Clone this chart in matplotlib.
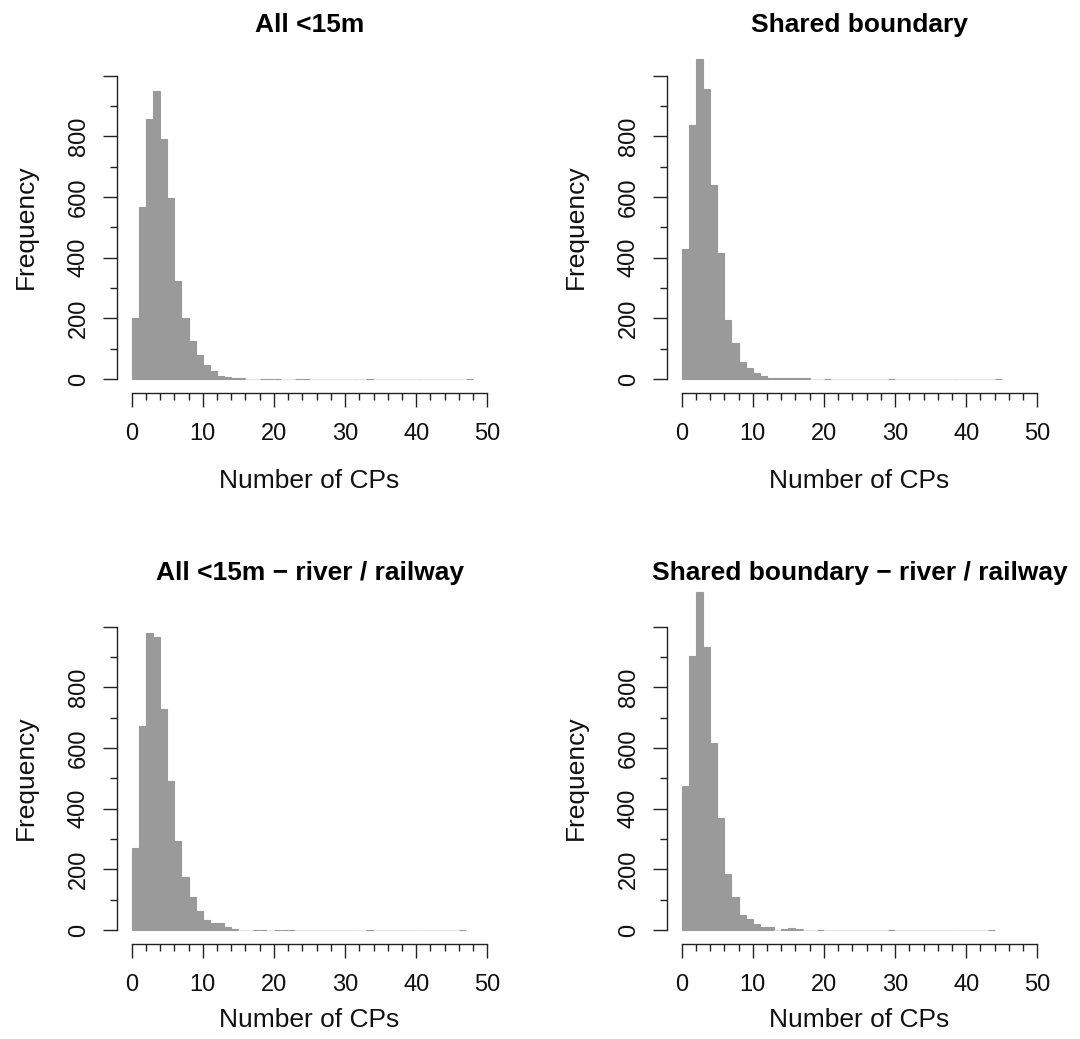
import matplotlib.pyplot as plt
import numpy as np

plt.rcParams['font.family'] = ['Liberation Sans', 'DejaVu Sans']

# counts per unit-width bin, starting at 0
all_15m = [200, 567, 856, 949, 792, 596, 323, 200, 125, 79, 45, 26, 10, 8, 3, 2,
           0, 0, 1, 1, 1, 0, 0, 1, 1, 0, 0, 0, 0, 0, 0, 0, 0, 1, 0, 0,
           0, 0, 0, 0, 0, 0, 0, 0, 0, 0, 0, 1]
shared = [427, 838, 1054, 955, 641, 416, 194, 119, 55, 37, 20, 9, 3, 2, 2, 2,
          2, 2, 0, 0, 1, 0, 0, 0, 0, 0, 0, 0, 0, 1, 0, 0, 0, 0, 0, 0,
          0, 0, 0, 0, 0, 0, 0, 0, 1]
all_15m_rr = [271, 671, 978, 967, 730, 491, 295, 174, 109, 63, 33, 22, 22, 10, 3, 0,
              0, 1, 1, 0, 1, 1, 1, 0, 0, 0, 0, 0, 0, 0, 0, 0, 0, 1, 0, 0,
              0, 0, 0, 0, 0, 0, 0, 0, 0, 0, 1]
shared_rr = [474, 904, 1113, 933, 615, 370, 184, 108, 51, 37, 21, 10, 10, 0, 3, 8,
             2, 0, 0, 1, 0, 0, 0, 0, 0, 0, 0, 0, 0, 1, 0, 0, 0, 0, 0, 0,
             0, 0, 0, 0, 0, 0, 0, 1]

titles = ["All <15m", "Shared boundary",
          "All <15m \u2212 river / railway", "Shared boundary \u2212 river / railway"]
series = [all_15m, shared, all_15m_rr, shared_rr]

W, H = 1080, 1039
fig = plt.figure(figsize=(W / 100, H / 100), dpi=100)

# pixel layout of a panel (from the top-left corner of the figure)
px_unit = 7.112      # pixels per x unit
px_count = 0.3033    # pixels per count
x_lo, x_hi = -2, 52
y_lo, y_hi = -45, 1150
col_step, row_step = 550, 551

bar_col = '#9a9a9a'
zero_col = '#e4e4e4'
ink = '#111111'


def to_fig(px, py):
    return px / W, 1 - py / H


def panel(counts, title, col, row):
    x0 = 131.7 + col * col_step
    y0 = 379.0 + row * row_step
    left = x0 + x_lo * px_unit
    right = x0 + x_hi * px_unit
    bottom = y0 - y_lo * px_count
    top = y0 - y_hi * px_count
    ax = fig.add_axes([left / W, 1 - bottom / H, (right - left) / W, (bottom - top) / H])

    counts = np.asarray(counts)
    edges = np.arange(len(counts) + 1)
    # empty bins show only their light outline, filled ones a thin grey rim
    edge_cols = [bar_col if c > 0 else zero_col for c in counts]
    ax.bar(edges[:-1], counts, width=1, align='edge', color=bar_col,
           edgecolor=edge_cols, linewidth=0.8, clip_on=False, zorder=2)

    ax.set_xlim(x_lo, x_hi)
    ax.set_ylim(y_lo, y_hi)
    for s in ['top', 'right']:
        ax.spines[s].set_visible(False)
    ax.spines['bottom'].set_bounds(0, 50)
    ax.spines['left'].set_bounds(0, 1000)
    for s in ['bottom', 'left']:
        ax.spines[s].set_linewidth(1.0)
        ax.spines[s].set_color('#222222')

    ax.set_xticks(np.arange(0, 51, 10))
    ax.set_xticks(np.arange(0, 51, 2), minor=True)
    ax.set_yticks(np.arange(0, 1001, 200))
    ax.set_yticklabels(['0', '200', '400', '600', '800', ''])
    ax.set_yticks(np.arange(100, 1000, 200), minor=True)
    ax.tick_params(which='major', direction='out', length=10, width=1.0,
                   color='#222222', labelsize=17, labelcolor=ink)
    ax.tick_params(which='minor', direction='out', length=5, width=1.0, color='#222222')
    ax.tick_params(axis='x', pad=12)
    ax.tick_params(axis='y', pad=10, labelrotation=90)
    for lab in ax.get_yticklabels():
        lab.set_va('center')

    cx = (left + right) / 2
    fig.text(*to_fig(cx, 31.7 + row * 548), title, ha='center', va='baseline',
             fontsize=19, fontweight='bold', color='#000000')
    fig.text(*to_fig(cx, 488.3 + row * 538.4), "Number of CPs", ha='center',
             va='baseline', fontsize=19, color=ink)
    fig.text(*to_fig(25.8 + col * col_step, 226.7 + row * row_step), "Frequency",
             ha='center', va='center', rotation=90, fontsize=19, color=ink)
    return ax


for i, (counts, title) in enumerate(zip(series, titles)):
    panel(counts, title, i % 2, i // 2)

fig.savefig('out.png', dpi=100)
